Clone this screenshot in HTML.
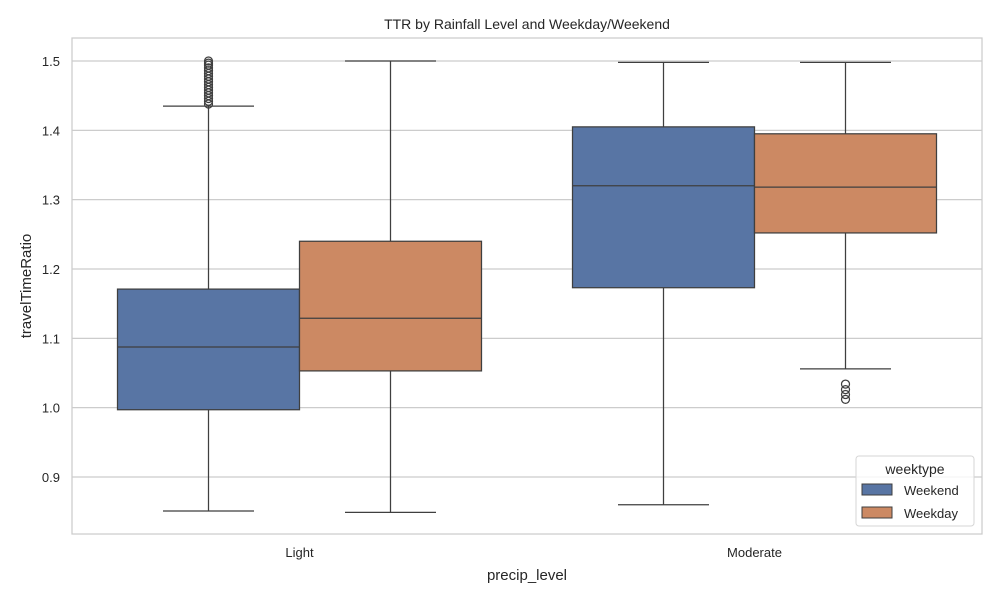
<!DOCTYPE html>
<html><head><meta charset="utf-8"><style>body{margin:0;background:#fff}svg{display:block;font-family:"Liberation Sans",sans-serif}</style></head>
<body>
<svg id="chart" width="1000" height="600">
<rect x="72" y="38" width="910" height="496" fill="#fff" stroke="#cccccc" stroke-width="1.25"/>
<g id="grid"></g><g id="marks"></g><g id="axes"></g>
<text x="527" y="29" text-anchor="middle" font-size="14" fill="#262626">TTR by Rainfall Level and Weekday/Weekend</text>
<text x="527" y="580" text-anchor="middle" font-size="15" fill="#262626">precip_level</text>
<text transform="translate(31,286) rotate(-90)" text-anchor="middle" font-size="15" fill="#262626">travelTimeRatio</text>
<g>
<rect x="856" y="456" width="118" height="70" rx="3" fill="#fff" fill-opacity="0.8" stroke="#d6d6d6"/>
<text x="915" y="474" text-anchor="middle" font-size="14" fill="#262626">weektype</text>
<rect x="862" y="484" width="30" height="11" fill="#5875a4" stroke="#3f3f3f"/>
<text x="904" y="495" font-size="13" fill="#262626">Weekend</text>
<rect x="862" y="507" width="30" height="11" fill="#cc8963" stroke="#3f3f3f"/>
<text x="904" y="518" font-size="13" fill="#262626">Weekday</text>
</g>
</svg>
<script>
const categories = ["Light", "Moderate"];
const series = ["Weekend", "Weekday"];
const colors = ["#5875a4", "#cc8963"];
// [low whisker, q1, median, q3, high whisker] per category per series
const weekendStats = [[0.851, 0.997, 1.0875, 1.171, 1.435], [0.860, 1.173, 1.320, 1.405, 1.498]];
const weekdayStats = [[0.849, 1.053, 1.129, 1.240, 1.500], [1.056, 1.252, 1.318, 1.395, 1.498]];
const weekendOutliers = [[1.438,1.442,1.446,1.45,1.454,1.458,1.462,1.466,1.47,1.474,1.478,1.482,1.486,1.49,1.494,1.497,1.5], []];
const weekdayOutliers = [[], [1.034, 1.026, 1.019, 1.012]];
const yTicks = [0.9, 1.0, 1.1, 1.2, 1.3, 1.4, 1.5];

const NS = "http://www.w3.org/2000/svg";
function y(v){ return 61 + (1.5 - v) * 693.3; }
const catW = 455, x0 = 72, boxW = 182;
function catCenter(i){ return x0 + catW * (i + 0.5); }
function mk(tag, attrs, parent){ const e = document.createElementNS(NS, tag); for (const k in attrs) e.setAttribute(k, attrs[k]); parent.appendChild(e); return e; }
const grid = document.getElementById('grid'), marks = document.getElementById('marks'), axes = document.getElementById('axes');

yTicks.forEach(t => {
  const l = mk('line', {x1:72, x2:982, y1:y(t), y2:y(t), stroke:'#cccccc', 'stroke-width':1.25}, grid);
  
  
  const tx = mk('text', {x:60, y:y(t)+5, 'text-anchor':'end', 'font-size':13, fill:'#262626'}, axes);
  tx.textContent = t.toFixed(1);
  
  
});
categories.forEach((c, i) => {
  const tx = mk('text', {x:catCenter(i), y:557, 'text-anchor':'middle', 'font-size':13, fill:'#262626'}, axes);
  tx.textContent = c;
  
  
});
const allStats = [weekendStats, weekdayStats], allOut = [weekendOutliers, weekdayOutliers];
categories.forEach((c, i) => {
  series.forEach((s, j) => {
    const st = allStats[j][i];
    const left = catCenter(i) - boxW + j * boxW, cx = left + boxW / 2;
    const g = mk('g', {}, marks);
    
    
    const st1 = {stroke:'#3f3f3f', 'stroke-width':1.25};
    mk('line', Object.assign({x1:cx, x2:cx, y1:y(st[0]), y2:y(st[1])}, st1), g);
    mk('line', Object.assign({x1:cx, x2:cx, y1:y(st[3]), y2:y(st[4])}, st1), g);
    mk('line', Object.assign({x1:cx-boxW/4, x2:cx+boxW/4, y1:y(st[0]), y2:y(st[0])}, st1), g);
    mk('line', Object.assign({x1:cx-boxW/4, x2:cx+boxW/4, y1:y(st[4]), y2:y(st[4])}, st1), g);
    mk('rect', Object.assign({x:left, y:y(st[3]), width:boxW, height:y(st[1])-y(st[3]), fill:colors[j]}, st1), g);
    mk('line', Object.assign({x1:left, x2:left+boxW, y1:y(st[2]), y2:y(st[2])}, st1), g);
    allOut[j][i].forEach(v => {
      const o = mk('circle', {cx:cx, cy:y(v), r:4, fill:'none', stroke:'#3f3f3f', 'stroke-width':1.25}, g);
      
      
    });
  });
});
</script>
</body></html>
